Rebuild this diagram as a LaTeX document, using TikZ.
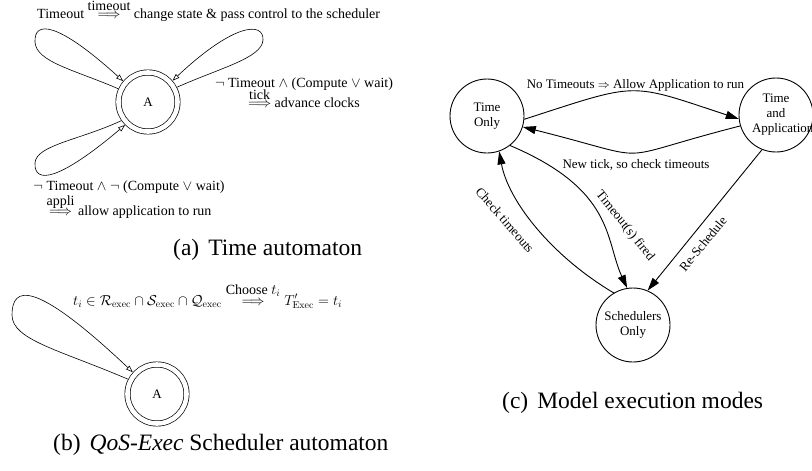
\documentclass[tikz,border=0pt]{standalone}
\usepackage{amsmath}
\usepackage[no-math]{fontspec}
\setmainfont{Liberation Serif}
\usetikzlibrary{arrows.meta}
\newcommand\arrlab[2]{\mathrel{\ooalign{\hfil$\Longrightarrow$\hfil\cr\hfil\smash{\raisebox{#1}{#2}}\hfil\cr}}}
\newcommand\twol[3][0pt]{\begin{tabular}[t]{@{}c@{}}#2\\[#1]#3\end{tabular}}
\begin{document}
\begin{tikzpicture}[x=1pt,y=-1pt,
  every node/.style={inner sep=0pt},
  ta/.style={font=\fontsize{14}{20}\selectfont},
  tc/.style={font=\fontsize{13}{15}\selectfont},
  capt/.style={font=\fontsize{23.5}{28}\selectfont, anchor=base west},
  acc/.style={circle, draw, double, line width=0.7pt, double distance=4.6pt,
    minimum size=59pt, outer sep=3pt, font=\fontsize{13}{15}\selectfont},
  st/.style={circle, draw, line width=0.9pt, minimum size=74pt, align=center,
    font=\fontsize{13}{15}\selectfont},
  loopa/.style={line width=0.6pt, -{Triangle[open, length=7pt, width=5pt, fill=white]}},
  ed/.style={line width=0.9pt, -{Triangle[length=13pt, width=8pt]}}
]
\useasboundingbox (0,0) rectangle (812,471);

% ---------- (a) Time automaton ----------
\node[acc] (A1) at (148,102) {A};
\draw[loopa] (A1.156) .. controls (75,70) and (36,62) .. (35,42)
                       .. controls (34,20) and (58,22) .. (A1.140);
\draw[loopa] (A1.27) .. controls (220,68) and (262,58) .. (263,40)
                      .. controls (264,22) and (235,22) .. (A1.41);
\draw[loopa] (A1.215) .. controls (80,140) and (36,145) .. (35,163)
                       .. controls (34,185) and (60,180) .. (A1.225);

\node[ta, anchor=base west] (t1) at (37,18)
  {Timeout $\arrlab{8pt}{timeout}$ change state \& pass control to the scheduler};
\node[ta, anchor=base] (t2) at (304,87)
  {\twol{$\neg$ Timeout $\wedge$ (Compute $\vee$ wait)}{$\arrlab{7.5pt}{tick}$ advance clocks}};
\node[ta, anchor=base] (t3) at (129,190)
  {\twol[5pt]{$\neg$ Timeout $\wedge$ $\neg$ (Compute $\vee$ wait)}{$\arrlab{10pt}{appli}$ allow application to run}};
\node[capt] (ca) at (173,255.5) {(a)\hspace{9pt}Time automaton};

% ---------- (b) Scheduler automaton ----------
\node[acc] (A2) at (157,394) {A};
\draw[loopa] (A2.153) .. controls (60,350) and (12,340) .. (12,315)
                       .. controls (12,285) and (35,280) .. (A2.138);
\node[ta, anchor=base west] (t4) at (73,305)
  {$t_i \in \mathcal{R}_{\mathrm{exec}} \cap \mathcal{S}_{\mathrm{exec}} \cap \mathcal{Q}_{\mathrm{exec}} \arrlab{11pt}{Choose $t_i$} T'_{\mathrm{Exec}} = t_i$};
\node[capt] (cb) at (53,450) {(b)\hspace{9pt}\textit{QoS-Exec} Scheduler automaton};

% ---------- (c) Model execution modes ----------
\node[st] (TO) at (487,116) {Time\\Only};
\node[st, text width=48pt] (TA) at (776,115) {Time\\and\\Application};
\node[st] (SO) at (633,325) {Schedulers\\Only};

\draw[ed] (TO.-5) .. controls (640,82) and (627,82) .. (TA.186);
\draw[ed] (TA.197) .. controls (603,161) and (663,162) .. (TO.-17);
\draw[ed] (TO.-52) .. controls (615,190) and (605,240) .. (SO.99);
\draw[ed] (SO.121) .. controls (550,255) and (508,200) .. (TO.-71);
\draw[ed] (TA.-112) -- (SO.67);

\node[tc, anchor=base] (l1) at (635.5,88) {No Timeouts $\Rightarrow$ Allow Application to run};
\node[tc, anchor=base] (l2) at (636,168) {New tick, so check timeouts};
\node[tc, rotate=-51] (l3) at (625,226) {Timeout(s) fired};
\node[tc, rotate=-49] (l4) at (505,220) {Check timeouts};
\node[tc, rotate=50.6] (l5) at (703,244) {Re-Schedule};
\node[capt] (cc) at (502,408) {(c)\hspace{9pt}Model execution modes};
\end{tikzpicture}
\end{document}
